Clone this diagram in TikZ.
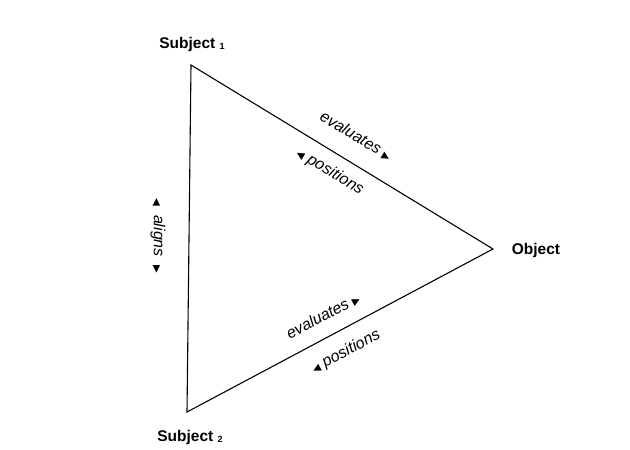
\documentclass[tikz,border=0pt]{standalone}
\usepackage{fontspec}
\setmainfont{Liberation Sans}
\newfontfamily\dejavu{DejaVu Sans}
\newcommand{\rtri}{{\dejavu\fontsize{10}{10}\selectfont ▶}}
\newcommand{\ltri}{{\dejavu\fontsize{10}{10}\selectfont ◀}}
\begin{document}
\begin{tikzpicture}[x=1pt,y=-1pt,
  vlabel/.style={font=\fontsize{15.5}{18}\selectfont\bfseries, inner sep=0pt},
  elabel/.style={font=\fontsize{16}{18}\selectfont\itshape, inner sep=0pt},
  edge/.style={line width=1.1pt, black}]
\useasboundingbox (0,0) rectangle (630,450);
\coordinate (s1) at (191,65);
\coordinate (s2) at (187,412);
\coordinate (ob) at (493,249);
\draw[edge, line join=miter] (s1) -- (ob) -- (s2) -- cycle;
\node[vlabel] (l1) at (192,44) {Subject \raisebox{-1pt}{\fontsize{9}{9}\selectfont 1}};
\node[vlabel] (l2) at (190,437) {Subject \raisebox{-1pt}{\fontsize{9}{9}\selectfont 2}};
\node[vlabel] (l3) at (536,250) {Object};
\node[elabel, rotate=-31.4] (e1) at (356,136) {evaluates \rtri};
\node[elabel, rotate=-31.4] (p1) at (330,172) {\ltri\ positions};
\node[elabel, rotate=28] (e2) at (323,316) {evaluates \rtri};
\node[elabel, rotate=28] (p2) at (346,352) {\ltri\ positions};
\node[elabel, rotate=-90] (a1) at (158,236) {\ltri\ \ aligns \ \rtri};
\end{tikzpicture}
\end{document}
